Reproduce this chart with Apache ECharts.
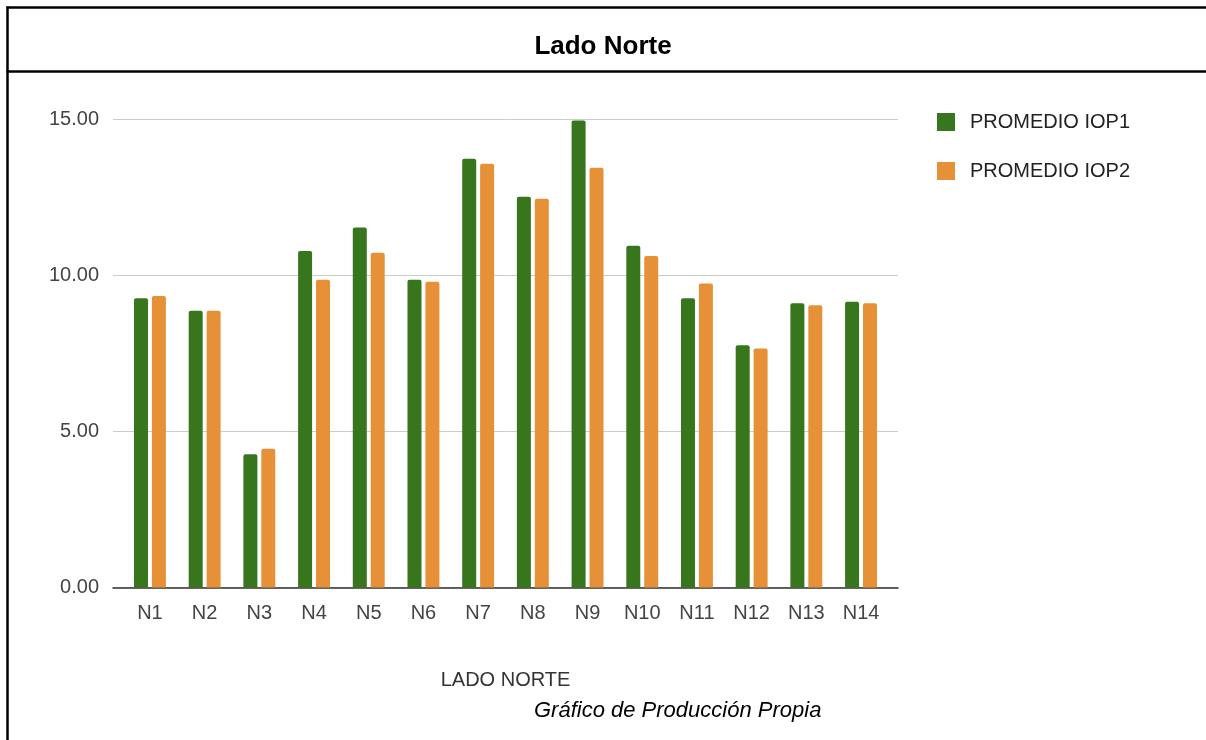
<!DOCTYPE html>
<html>
<head>
<meta charset="utf-8">
<style>
  html, body { margin: 0; padding: 0; background: #ffffff; }
  #chart { width: 1206px; height: 740px; }
</style>
<script src="https://cdn.jsdelivr.net/npm/echarts@6/dist/echarts.min.js"></script>
</head>
<body>
<div id="chart"></div>
<script>
const categories = ['N1', 'N2', 'N3', 'N4', 'N5', 'N6', 'N7', 'N8', 'N9', 'N10', 'N11', 'N12', 'N13', 'N14'];
const iop1 = [9.26, 8.86, 4.27, 10.77, 11.53, 9.85, 13.73, 12.51, 14.95, 10.94, 9.26, 7.76, 9.10, 9.15];
const iop2 = [9.33, 8.86, 4.44, 9.85, 10.72, 9.79, 13.57, 12.45, 13.44, 10.61, 9.73, 7.65, 9.04, 9.10];
const seriesNames = ['PROMEDIO IOP1', 'PROMEDIO IOP2'];
const yTicks = { min: 0, max: 15, interval: 5 };

const FONT = '"Liberation Sans", Arial, sans-serif';
const chart = echarts.init(document.getElementById('chart'), null, { renderer: 'canvas' });

const option = {
  backgroundColor: '#ffffff',
  animation: false,
  title: [
    {
      text: 'Lado Norte',
      left: 'center',
      top: 29,
      textStyle: { fontFamily: FONT, fontWeight: 'bold', fontSize: 26, color: '#000000' }
    },
    {
      text: 'Gráfico de Producción Propia',
      left: 529,
      top: 695,
      textStyle: { fontFamily: FONT, fontStyle: 'italic', fontWeight: 'normal', fontSize: 22, color: '#000000' }
    }
  ],
  legend: {
    orient: 'vertical',
    left: 937,
    top: 112,
    padding: 0,
    itemWidth: 18,
    itemHeight: 18,
    itemGap: 29,
    icon: 'rect',
    data: seriesNames,
    textStyle: { fontFamily: FONT, fontSize: 20, lineHeight: 20, color: '#222222', padding: [0, 0, 0, 10] }
  },
  grid: [
    { left: 122.6, right: 317.6, top: 119, bottom: 152.5, containLabel: false },
    { left: 113, right: 308, top: 119, bottom: 152.5, containLabel: false }
  ],
  xAxis: [
    {
      type: 'category',
      gridIndex: 0,
      data: categories,
      axisLine: { show: false },
      axisTick: { show: false },
      axisLabel: { fontFamily: FONT, fontSize: 20, color: '#444444', margin: 16 },
      name: 'LADO NORTE',
      nameLocation: 'middle',
      nameGap: 83,
      nameTextStyle: { fontFamily: FONT, fontSize: 20, color: '#333333' }
    },
    {
      type: 'value',
      gridIndex: 1,
      min: 0,
      max: 1,
      axisLine: { show: true, onZero: false, lineStyle: { color: '#333333', width: 1.5 } },
      axisTick: { show: false },
      axisLabel: { show: false },
      splitLine: { show: false }
    }
  ],
  yAxis: [
    {
      type: 'value',
      gridIndex: 0,
      min: yTicks.min,
      max: yTicks.max,
      interval: yTicks.interval,
      show: false,
      splitLine: { show: false }
    },
    {
      type: 'value',
      gridIndex: 1,
      min: yTicks.min,
      max: yTicks.max,
      interval: yTicks.interval,
      axisLine: { show: false },
      axisTick: { show: false },
      axisLabel: {
        fontFamily: FONT,
        fontSize: 20,
        color: '#444444',
        margin: 14,
        formatter: function (v) { return v.toFixed(2); }
      },
      splitLine: { show: true, lineStyle: { color: '#cccccc', width: 1 } }
    }
  ],
  series: [
    {
      name: seriesNames[0],
      type: 'bar',
      xAxisIndex: 0,
      yAxisIndex: 0,
      data: iop1,
      barWidth: 14,
      barGap: '28%',
      itemStyle: { color: '#38761d', borderRadius: [2, 2, 0, 0] }
    },
    {
      name: seriesNames[1],
      type: 'bar',
      xAxisIndex: 0,
      yAxisIndex: 0,
      data: iop2,
      barWidth: 14,
      barGap: '28%',
      itemStyle: { color: '#e69138', borderRadius: [2, 2, 0, 0] }
    }
  ],
  graphic: [
    { type: 'line', silent: true, shape: { x1: 6.5, y1: 7.5, x2: 1206, y2: 7.5 }, style: { stroke: '#000000', lineWidth: 2.5 } },
    { type: 'line', silent: true, shape: { x1: 7.5, y1: 6.5, x2: 7.5, y2: 740 }, style: { stroke: '#000000', lineWidth: 2.5 } },
    { type: 'line', silent: true, shape: { x1: 6.5, y1: 71.5, x2: 1206, y2: 71.5 }, style: { stroke: '#000000', lineWidth: 2.5 } }
  ]
};

chart.setOption(option);
</script>
</body>
</html>
